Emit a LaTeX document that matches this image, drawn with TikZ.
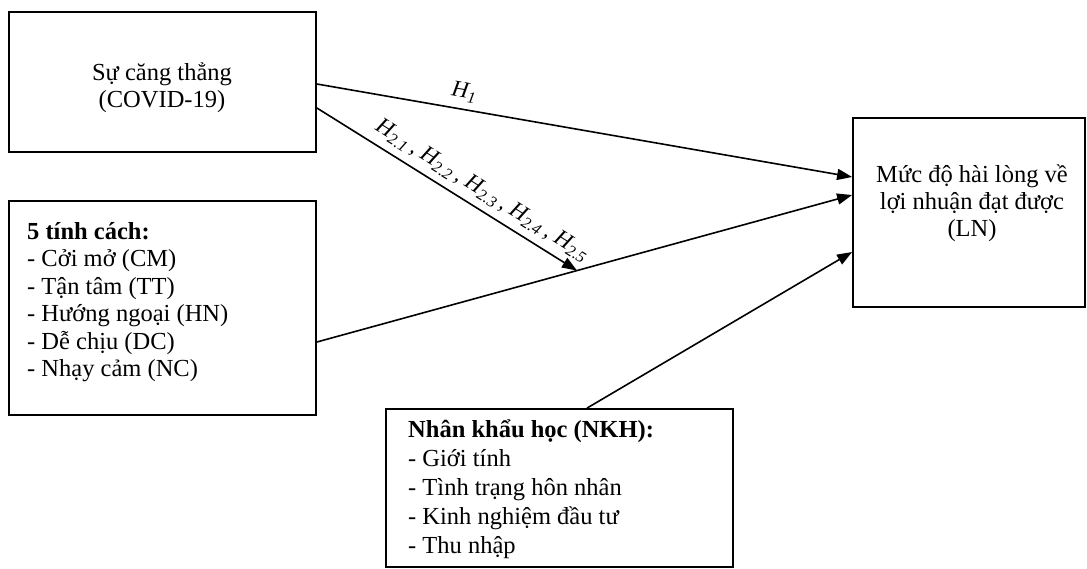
\documentclass[tikz,border=0pt]{standalone}
\usepackage{fontspec}
\setmainfont{Liberation Serif}
\usetikzlibrary{arrows.meta,calc}
\begin{document}
\begin{tikzpicture}[x=1pt,y=-1pt,
  box/.style={draw, line width=1.8pt, inner sep=0pt},
  conn/.style={line width=1.6pt, -{Triangle[length=15pt,width=11pt]}},
  txt/.style={font=\fontsize{24.5}{27}\selectfont, align=center, inner sep=0pt},
  ltxt/.style={font=\fontsize{24.5}{27.5}\selectfont, align=left, inner sep=0pt, anchor=north west},
  hl/.style={font=\fontsize{23}{26}\selectfont\itshape, sloped, above, inner sep=7pt}]
\useasboundingbox (0,0) rectangle (1087,568);
% boxes
\node[box, minimum width=307pt, minimum height=140pt] (s) at (162.5,82) {};
\node[txt] (st) at (162,88) {Sự căng thẳng\\(COVID-19)};
\node[box, minimum width=307pt, minimum height=214pt] (p) at (162.5,308) {};
\node[ltxt] (pt) at (27,222) {\textbf{5 tính cách:}\\- Cởi mở (CM)\\- Tận tâm (TT)\\- Hướng ngoại (HN)\\- Dễ chịu (DC)\\- Nhạy cảm (NC)};
\node[box, minimum width=232pt, minimum height=189pt] (l) at (969,212.5) {};
\node[txt] (lt) at (972,203) {Mức độ hài lòng về\\lợi nhuận đạt được\\(LN)};
\node[box, minimum width=347pt, minimum height=158pt] (d) at (559.5,488) {};
\node[ltxt, font=\fontsize{24.5}{29}\selectfont] (dt) at (408,419) {\textbf{Nhân khẩu học (NKH):}\\- Giới tính\\- Tình trạng hôn nhân\\- Kinh nghiệm đầu tư\\- Thu nhập};
% connectors
\draw[conn] ([yshift=-2pt]s.east) -- node[hl, pos=0.27] (h1) {H\textsubscript{1}} ([yshift=35.5pt]l.west);
\draw[conn] ([yshift=-34pt]p.east) -- coordinate[pos=0.486] (tgt) ([yshift=17.5pt]l.west);
\draw[conn] ([yshift=-26pt]s.east) -- node[hl, pos=0.6] (h2) {H\textsubscript{2.1}\,, H\textsubscript{2.2}\,, H\textsubscript{2.3}\,, H\textsubscript{2.4}\,, H\textsubscript{2.5}} (tgt);
\draw[conn] ([xshift=27.5pt]d.north) -- ([yshift=-39.5pt]l.west);
\end{tikzpicture}
\end{document}
